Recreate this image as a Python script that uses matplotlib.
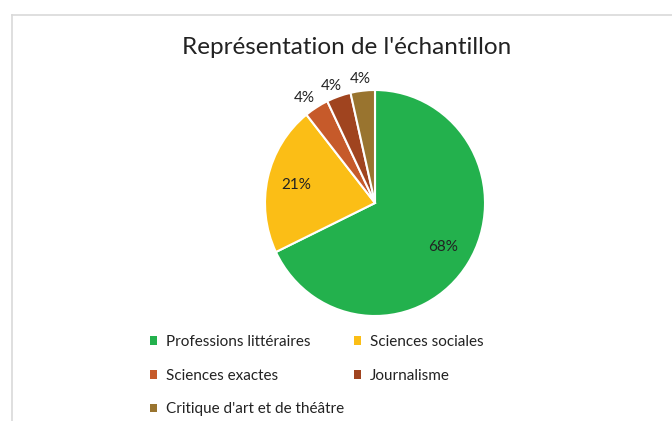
import numpy as np
import matplotlib.pyplot as plt
from matplotlib.lines import Line2D
from matplotlib.patches import Patch

plt.rcParams['font.family'] = ['Lato', 'DejaVu Sans']

# Data
categories = ['Professions littéraires', 'Sciences sociales', 'Sciences exactes',
              'Journalisme', "Critique d'art et de théâtre"]
counts = [19, 6, 1, 1, 1]
colors = ['#23B14D', '#FBBE16', '#C65A2A', '#A0441F', '#99742F']

fig = plt.figure(figsize=(6.72, 4.21), dpi=100)

# chart frame (Excel-like light border)
fig.add_artist(Line2D([12/672, 1], [1 - 15/421, 1 - 15/421], color='#D9D9D9', lw=1.2))
fig.add_artist(Line2D([12/672, 12/672], [0, 1 - 15/421], color='#D9D9D9', lw=1.2))

fig.text(347/672, 1 - 48/421, "Représentation de l'échantillon", ha='center', va='center',
         fontsize=17.5, color='#222222')

cx, cy, rx, ry = 375, 203, 110, 113
ax = fig.add_axes([(cx - rx)/672, (421 - cy - ry)/421, 2*rx/672, 2*ry/421])
wedges, texts, autotexts = ax.pie(counts, colors=colors, startangle=90, counterclock=False,
                                  autopct='%1.0f%%', pctdistance=0.73,
                                  wedgeprops=dict(edgecolor='white', linewidth=1.5),
                                  textprops=dict(fontsize=11, color='#222222'))
ax.set_xlim(-1, 1)
ax.set_ylim(-1, 1)
ax.set_aspect('auto')
ax.axis('off')

# small slices get their labels outside, like Excel
for w, t in zip(wedges, autotexts):
    frac = (w.theta2 - w.theta1) / 360
    if frac < 0.1:
        ang = np.deg2rad((w.theta1 + w.theta2) / 2)
        t.set_position((1.2 * np.cos(ang), 1.1 * np.sin(ang)))
        t.set_clip_on(False)

# legend is filled by column, so reorder to get row-wise reading like Excel
order = [0, 2, 4, 1, 3]
handles = [Patch(facecolor=colors[i], edgecolor='none') for i in order]
labels = [categories[i] for i in order]
leg = fig.legend(handles, labels, ncol=2, loc='upper left',
                 bbox_to_anchor=(136/672, 1 - 321/421), frameon=False,
                 fontsize=11, handlelength=0.5, handleheight=0.5,
                 handletextpad=0.55, labelspacing=1.3, columnspacing=0.65)
for t in leg.get_texts():
    t.set_color('#222222')

fig.savefig('out.png', dpi=100, facecolor='white')
